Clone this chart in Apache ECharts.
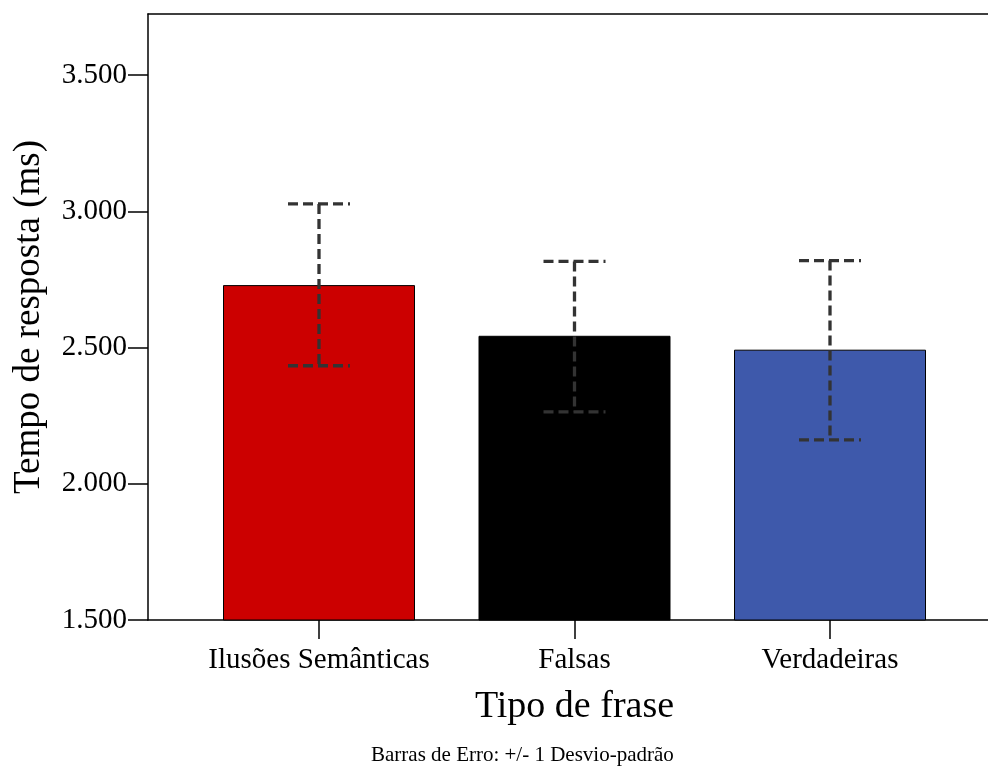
<!DOCTYPE html>
<html>
<head>
<meta charset="utf-8">
<script src="https://cdn.jsdelivr.net/npm/echarts@6/dist/echarts.min.js"></script>
<style>
  html, body { margin: 0; padding: 0; background: #fff; }
  #chart { width: 988px; height: 772px; }
</style>
</head>
<body>
<div id="chart"></div>
<script>
// data
const categories = ['Ilusões Semânticas', 'Falsas', 'Verdadeiras'];
const means = [2729, 2543, 2492];
const sdUpper = [3027, 2816, 2819];
const sdLower = [2433, 2264, 2161];
const barColors = ['#cc0000', '#000000', '#3e59ab'];
const yTicks = [1500, 2000, 2500, 3000, 3500];

const serif = "'Liberation Serif', 'DejaVu Serif', serif";

const chart = echarts.init(document.getElementById('chart'));

const fmtThousands = (v) => {
  const s = String(v);
  return s.length > 3 ? s.slice(0, -3) + '.' + s.slice(-3) : s;
};

const option = {
  backgroundColor: '#ffffff',
  animation: false,
  textStyle: { fontFamily: serif },
  grid: [
    // frame (left line, top line, baseline)
    { left: 148, top: 14, right: 0, bottom: 152 },
    // data grid: bands placed so centers match the reference
    { left: 191.25, top: 75, right: 30.25, bottom: 152 },
  ],
  xAxis: [
    {
      gridIndex: 0, type: 'value', position: 'bottom', min: 0, max: 1,
      axisLine: { show: true, lineStyle: { color: '#000', width: 1.5 } },
      axisTick: { show: false }, axisLabel: { show: false }, splitLine: { show: false },
    },
    {
      gridIndex: 0, type: 'value', position: 'top', min: 0, max: 1,
      axisLine: { show: true, lineStyle: { color: '#000', width: 1.5 } },
      axisTick: { show: false }, axisLabel: { show: false }, splitLine: { show: false },
    },
    {
      gridIndex: 1, type: 'category', data: categories,
      axisLine: { show: false },
      axisTick: { show: true, alignWithLabel: true, length: 19, lineStyle: { color: '#000', width: 1.5 } },
      axisLabel: { color: '#000', fontSize: 29, fontFamily: serif, margin: 26, interval: 0 },
      name: 'Tipo de frase',
      nameLocation: 'middle',
      nameGap: 68,
      nameTextStyle: { color: '#000', fontSize: 38, fontFamily: serif },
    },
  ],
  yAxis: [
    {
      gridIndex: 0, type: 'value', min: 0, max: 1,
      axisLine: { show: true, lineStyle: { color: '#000', width: 1.5 } },
      axisTick: { show: false }, axisLabel: { show: false }, splitLine: { show: false },
      name: 'Tempo de resposta (ms)',
      nameLocation: 'middle',
      nameGap: 100,
      nameTextStyle: { color: '#000', fontSize: 37, fontFamily: serif },
    },
    {
      gridIndex: 1, type: 'value', min: yTicks[0], max: yTicks[yTicks.length - 1], interval: 500,
      offset: 43.25,
      axisLine: { show: false },
      axisTick: { show: true, length: 20, lineStyle: { color: '#000', width: 1.5 } },
      axisLabel: { color: '#000', fontSize: 29, fontFamily: serif, margin: 21, formatter: fmtThousands },
      splitLine: { show: false },
    },
  ],
  title: {
    text: 'Barras de Erro: +/- 1 Desvio-padrão',
    left: 366,
    top: 740,
    textStyle: { color: '#000', fontSize: 21, fontWeight: 'normal', fontFamily: serif },
  },
  series: [
    {
      type: 'bar',
      xAxisIndex: 2,
      yAxisIndex: 1,
      barWidth: 192,
      data: means.map((v, i) => ({
        value: v,
        itemStyle: { color: barColors[i], borderColor: '#000', borderWidth: 1 },
      })),
      emphasis: { disabled: true },
    },
    {
      type: 'custom',
      xAxisIndex: 2,
      yAxisIndex: 1,
      data: categories.map((c, i) => [i, sdLower[i], sdUpper[i]]),
      renderItem: (params, api) => {
        const lo = api.coord([api.value(0), api.value(1)]);
        const hi = api.coord([api.value(0), api.value(2)]);
        const half = 31;
        const style = { stroke: '#333', lineWidth: 3.3, lineDash: [10, 5], fill: null };
        return {
          type: 'group',
          children: [
            { type: 'line', shape: { x1: hi[0], y1: hi[1], x2: lo[0], y2: lo[1] }, style },
            { type: 'line', shape: { x1: hi[0] - half, y1: hi[1], x2: hi[0] + half, y2: hi[1] }, style },
            { type: 'line', shape: { x1: lo[0] - half, y1: lo[1], x2: lo[0] + half, y2: lo[1] }, style },
          ],
        };
      },
      z: 5,
    },
  ],
};

chart.setOption(option);
</script>
</body>
</html>
